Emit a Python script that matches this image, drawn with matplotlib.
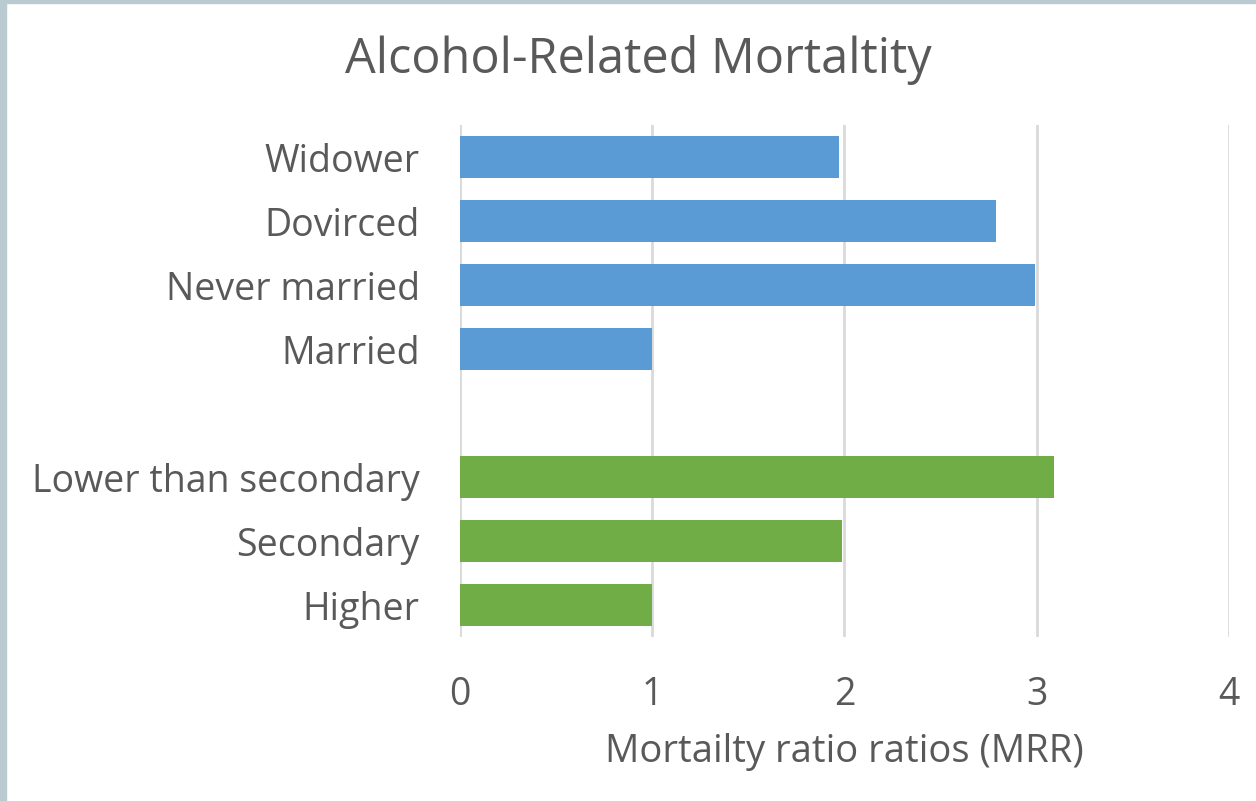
import matplotlib.pyplot as plt
from matplotlib.patches import Rectangle

# categories, bottom to top (None = empty gap row)
labels = ["Higher", "Secondary", "Lower than secondary", "",
          "Married", "Never married", "Dovirced", "Widower"]
values = [1.0, 1.985, 3.09, None, 1.0, 2.99, 2.79, 1.97]
groups = ["edu", "edu", "edu", None, "mar", "mar", "mar", "mar"]
colors = {"edu": "#70ad47", "mar": "#5b9bd5"}

text_color = "#595959"
plt.rcParams['font.family'] = ['Open Sans', 'DejaVu Sans']

fig = plt.figure(figsize=(12.56, 8.01), dpi=100)
ax = fig.add_axes([0.3662, 0.2047, 0.6123, 0.6392])

for i, (v, g) in enumerate(zip(values, groups)):
    if v is None:
        continue
    ax.barh(i, v, height=0.65, color=colors[g], zorder=3)

ax.set_xlim(0, 4)
ax.set_ylim(-0.5, len(labels) - 0.5)
ax.set_xticks([0, 1, 2, 3, 4])
ax.set_yticks(range(len(labels)))
ax.set_yticklabels(labels)
ax.tick_params(axis='both', length=0, labelsize=27, colors=text_color)
ax.tick_params(axis='y', pad=29)
ax.tick_params(axis='x', pad=28)
ax.grid(axis='x', color='#d9d9d9', linewidth=2, zorder=0)
for s in ax.spines.values():
    s.set_visible(False)

ax.set_xlabel('Mortailty ratio ratios (MRR)', fontsize=27.5, color=text_color, labelpad=14)
fig.text(0.508, 0.925, 'Alcohol-Related Mortaltity', fontsize=35,
         color=text_color, ha='center', va='center')

# frame strips on the left and top edge
fig.patches.append(Rectangle((0, 0), 6 / 1256, 1, transform=fig.transFigure,
                             color='#b9cbd0', zorder=0))
fig.patches.append(Rectangle((0, 1 - 3 / 801), 1, 3 / 801, transform=fig.transFigure,
                             color='#b9cbd0', zorder=0))

fig.savefig('out.png', dpi=100)
